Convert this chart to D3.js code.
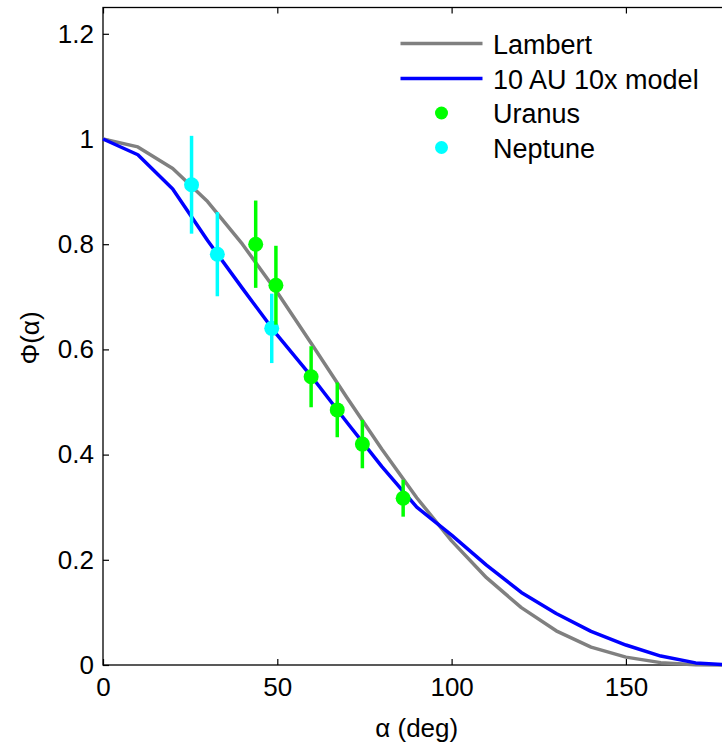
<!DOCTYPE html>
<html><head><meta charset="utf-8">
<script src="https://cdn.jsdelivr.net/npm/d3@7/dist/d3.min.js"></script>
<style>body{margin:0;background:#fff}svg{display:block}text{font-family:"Liberation Sans",Arial,sans-serif}</style>
</head><body><svg id="c" width="722" height="747"></svg>
<script>
const alphaGrid = [0,10,20,30,40,50,60,70,80,90,100,110,120,130,140,150,160,170,180];
const lambert = [1,0.985,0.944,0.881,0.800,0.708,0.609,0.508,0.410,0.318,0.236,0.166,0.109,0.065,0.034,0.015,0.0045,0.0005,0];
const model10AU = [1,0.970,0.905,0.807,0.716,0.627,0.547,0.461,0.377,0.300,0.247,0.190,0.138,0.098,0.064,0.038,0.017,0.004,0];
const uranusAlpha = [43.8,49.6,59.7,67.2,74.4,86.1];
const uranusPhi   = [0.800,0.722,0.548,0.485,0.420,0.317];
const uranusErr   = [0.083,0.075,0.058,0.052,0.046,0.035];
const neptuneAlpha = [25.4,32.8,48.4];
const neptunePhi   = [0.913,0.781,0.640];
const neptuneErr   = [0.093,0.080,0.066];
const xTicks = [0,50,100,150];
const yTicks = [0,0.2,0.4,0.6,0.8,1,1.2];
const legendLabels = ["Lambert","10 AU 10x model","Uranus","Neptune"];

const svg = d3.select("#c");
const x = d3.scaleLinear().domain([0,180]).range([103,730.5]);
const y = d3.scaleLinear().domain([0,1.25]).range([665,7.5]);
const FS = 26;

svg.append("rect").attr("x",103).attr("y",7.5).attr("width",730.5-103).attr("height",665-7.5)
  .attr("fill","none").attr("stroke","#000").attr("stroke-width",1.3);

const gx = svg.append("g").attr("transform","translate(0,665)")
  .call(d3.axisBottom(x).tickValues(xTicks).tickSize(-6).tickPadding(13).tickFormat(d3.format("d")));
const gxt = svg.append("g").attr("transform","translate(0,7.5)")
  .call(d3.axisTop(x).tickValues(xTicks).tickSize(-6).tickFormat(""));
const gy = svg.append("g").attr("transform","translate(103,0)")
  .call(d3.axisLeft(y).tickValues(yTicks).tickSize(-6).tickPadding(9).tickFormat(d=>d3.format("~g")(d)));
[gx,gxt,gy].forEach(g=>{
  g.select(".domain").remove();
  g.selectAll("line").attr("stroke","#000").attr("stroke-width",1.2);
  g.selectAll("text").attr("font-size",FS).attr("fill","#000").attr("font-family",'"Liberation Sans",Arial,sans-serif');
});

const line = d3.line().x(d=>x(d[0])).y(d=>y(d[1]));
svg.append("path").datum(alphaGrid.map((a,i)=>[a,lambert[i]])).attr("d",line)
  .attr("fill","none").attr("stroke","#808080").attr("stroke-width",3.5).attr("stroke-linejoin","round");
svg.append("path").datum(alphaGrid.map((a,i)=>[a,model10AU[i]])).attr("d",line)
  .attr("fill","none").attr("stroke","#0000ff").attr("stroke-width",3.5).attr("stroke-linejoin","round");

function points(al, ph, er, col){
  const g = svg.append("g");
  al.forEach((a,i)=>{
    g.append("line").attr("x1",x(a)).attr("x2",x(a)).attr("y1",y(ph[i]-er[i])).attr("y2",y(ph[i]+er[i]))
      .attr("stroke",col).attr("stroke-width",3.5);
  });
  al.forEach((a,i)=>{
    g.append("circle").attr("cx",x(a)).attr("cy",y(ph[i])).attr("r",7.5).attr("fill",col);
  });
}
points(neptuneAlpha, neptunePhi, neptuneErr, "#00ffff");
points(uranusAlpha, uranusPhi, uranusErr, "#00ff00");

const leg = svg.append("g");
const rows = [43.5,78.5,113,147.5];
leg.append("line").attr("x1",400.5).attr("x2",482.5).attr("y1",rows[0]).attr("y2",rows[0]).attr("stroke","#808080").attr("stroke-width",3.5);
leg.append("line").attr("x1",400.5).attr("x2",482.5).attr("y1",rows[1]).attr("y2",rows[1]).attr("stroke","#0000ff").attr("stroke-width",3.5);
leg.append("circle").attr("cx",441.5).attr("cy",rows[2]).attr("r",6.5).attr("fill","#00ff00");
leg.append("circle").attr("cx",441.5).attr("cy",rows[3]).attr("r",6.5).attr("fill","#00ffff");
legendLabels.forEach((t,i)=>{
  leg.append("text").attr("x",493).attr("y",rows[i]+1).attr("dy","0.35em").attr("font-size",27).text(t);
});

svg.append("text").attr("x",416.7).attr("y",737).attr("text-anchor","middle").attr("font-size",FS).text("α (deg)");
svg.append("text").attr("transform","translate(39,338) rotate(-90)").attr("text-anchor","middle").attr("font-size",FS).text("Φ(α)");
</script></body></html>
